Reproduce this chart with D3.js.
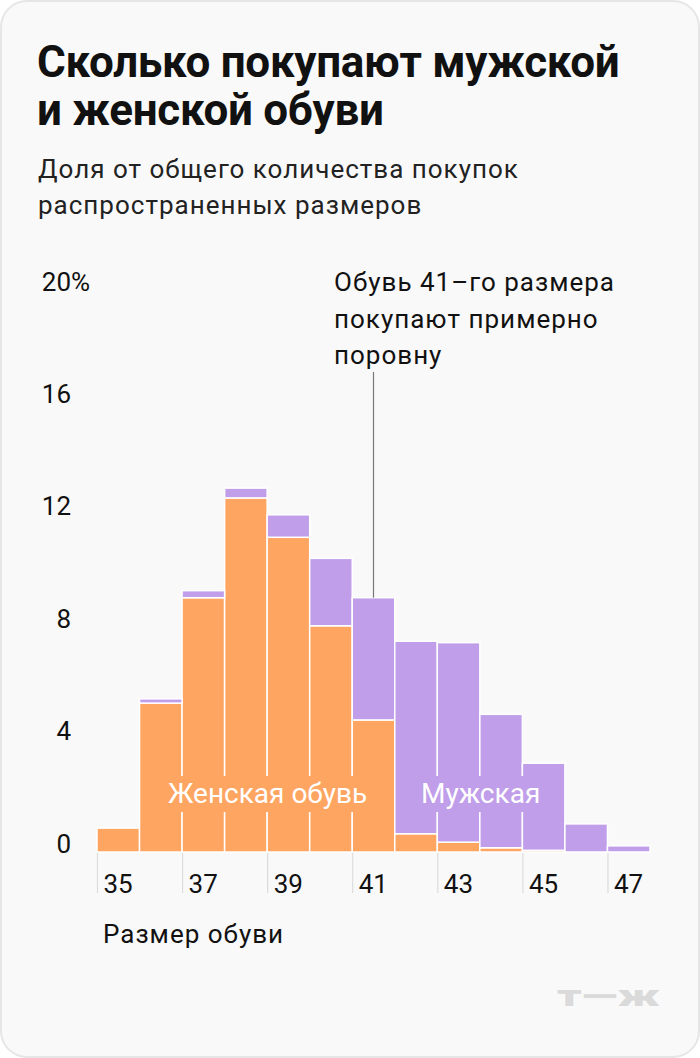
<!DOCTYPE html>
<html>
<head>
<meta charset="utf-8">
<script src="https://cdn.jsdelivr.net/npm/d3@7"></script>
<style>
  html, body { margin: 0; padding: 0; background: #ffffff; }
  svg { display: block; }
  text { font-family: Roboto, "Noto Sans", sans-serif; }
</style>
</head>
<body>
<svg id="chart" width="700" height="1058"></svg>
<script>
// ---- data ----
const sizes = [35, 36, 37, 38, 39, 40, 41, 42, 43, 44, 45, 46, 47];
const women = [0.85, 5.3, 9.05, 12.6, 11.2, 8.05, 4.7, 0.65, 0.35, 0.15, 0.06, 0, 0];
const men   = [0, 0.15, 0.25, 0.35, 0.8, 2.4, 4.35, 6.85, 7.1, 4.75, 3.1, 1.0, 0.22];
const xTicks = [35, 37, 39, 41, 43, 45, 47];
const yTicks = [0, 4, 8, 12, 16, 20];
const titleLines = ["Сколько покупают мужской", "и женской обуви"];
const subtitleLines = ["Доля от общего количества покупок", "распространенных размеров"];
const noteLines = ["Обувь 41–го размера", "покупают примерно", "поровну"];
const noteSize = 41;
const xTitle = "Размер обуви";
const womenLabel = "Женская обувь";
const menLabel = "Мужская";

const ORANGE = "#ffa562";
const PURPLE = "#c09ee9";

const svg = d3.select("#chart");

// card
svg.append("rect")
  .attr("x", 1).attr("y", 1).attr("width", 698).attr("height", 1056)
  .attr("rx", 26).attr("ry", 26)
  .attr("fill", "#f9f9f9").attr("stroke", "#e6e6e6").attr("stroke-width", 2);

// title
svg.append("g").selectAll("text").data(titleLines).join("text")
  .attr("x", 37).attr("y", (d, i) => 77 + i * 48)
  .attr("font-size", 44).attr("font-weight", 700).attr("fill", "#111")
  .attr("letter-spacing", -0.3)
  .text(d => d);

// subtitle
svg.append("g").selectAll("text").data(subtitleLines).join("text")
  .attr("x", 38).attr("y", (d, i) => 178 + i * 36)
  .attr("font-size", 26).attr("letter-spacing", 1.0).attr("fill", "#222")
  .text(d => d);

// scales
const x = d3.scaleLinear().domain([35, 48]).range([97, 650]);
const y = d3.scaleLinear().domain([0, 20]).range([852, 290]);

// x axis ticks
const xAxis = svg.append("g")
  .attr("transform", `translate(0,${y(0)})`)
  .call(d3.axisBottom(x).tickValues(xTicks).tickSize(41).tickFormat(d3.format("d")));
xAxis.select(".domain").remove();
xAxis.selectAll(".tick line").attr("stroke", "#dcdcdc").attr("stroke-width", 1.2);
xAxis.selectAll(".tick text")
  .attr("text-anchor", "start").attr("x", 6).attr("y", 41).attr("dy", 0)
  .attr("font-size", 26).attr("fill", "#111")
  .style("font-family", "Roboto, sans-serif");

// y axis
const yAxis = svg.append("g")
  .attr("transform", "translate(71,0)")
  .call(d3.axisLeft(y).tickValues(yTicks).tickSize(0).tickPadding(0));
yAxis.select(".domain").remove();
yAxis.selectAll(".tick text")
  .attr("dy", 0).attr("font-size", 26).attr("fill", "#111")
  .style("font-family", "Roboto, sans-serif");
yAxis.selectAll(".tick").filter(d => d === 20)
  .append("text").attr("x", 0).attr("dy", 0).attr("text-anchor", "start")
  .attr("font-size", 26).attr("fill", "#111").style("font-family", "Roboto, sans-serif")
  .text("%");

// bars
const rows = sizes.map((s, i) => ({ s, w: women[i], m: men[i] }));
const bars = svg.append("g");
bars.selectAll("rect.w").data(rows).join("rect").attr("class", "w")
  .attr("x", d => x(d.s)).attr("width", d => x(d.s + 1) - x(d.s))
  .attr("y", d => y(d.w)).attr("height", d => y(0) - y(d.w))
  .attr("fill", ORANGE).attr("stroke", "#ffffff").attr("stroke-width", 1.5)
  .attr("display", d => d.w > 0 ? null : "none");
bars.selectAll("rect.m").data(rows).join("rect").attr("class", "m")
  .attr("x", d => x(d.s)).attr("width", d => x(d.s + 1) - x(d.s))
  .attr("y", d => y(d.w + d.m)).attr("height", d => y(d.w) - y(d.w + d.m))
  .attr("fill", PURPLE).attr("stroke", "#ffffff").attr("stroke-width", 1.5)
  .attr("display", d => d.m > 0 ? null : "none");

// series labels with background
function seriesLabel(txt, tx, color) {
  const g = svg.append("g");
  const bg = g.append("rect").attr("fill", color);
  const t = g.append("text").attr("x", tx).attr("y", 803)
    .attr("font-size", 28).attr("fill", "#ffffff").text(txt);
  const b = t.node().getBBox();
  bg.attr("x", b.x - 8).attr("y", b.y - 1).attr("width", b.width + 16).attr("height", b.height + 3);
}
seriesLabel(womenLabel, 168, ORANGE);
seriesLabel(menLabel, 421, PURPLE);

// annotation
const iNote = sizes.indexOf(noteSize);
const nx = (x(noteSize) + x(noteSize + 1)) / 2;
svg.append("line")
  .attr("x1", nx).attr("x2", nx).attr("y1", 372).attr("y2", y(women[iNote] + men[iNote]))
  .attr("stroke", "#777").attr("stroke-width", 1.2);
svg.append("g").selectAll("text").data(noteLines).join("text")
  .attr("x", 334).attr("y", (d, i) => 291 + i * 36.5)
  .attr("font-size", 26).attr("letter-spacing", 1.0).attr("fill", "#111")
  .text(d => d);

// x title
svg.append("text").attr("x", 103).attr("y", 943)
  .attr("font-size", 26).attr("letter-spacing", 1.0).attr("fill", "#111").text(xTitle);

// logo
svg.append("text").attr("x", 557).attr("y", 1006)
  .attr("font-size", 30).attr("font-weight", 900).attr("fill", "#dadada")
  .attr("textLength", 103).attr("lengthAdjust", "spacingAndGlyphs")
  .text("т—ж");
</script>
</body>
</html>
